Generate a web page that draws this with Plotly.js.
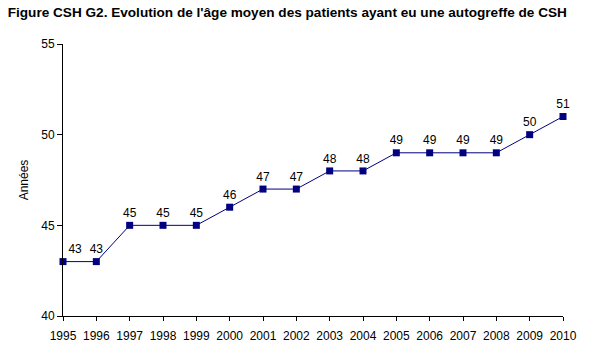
<!DOCTYPE html>
<html><head><meta charset="utf-8">
<script src="https://cdn.plot.ly/plotly-3.0.1.min.js"></script>
<style>body{margin:0;background:#fff}#c{width:593px;height:360px}</style>
</head><body><div id="c"></div>
<script>
const years = ['1995','1996','1997','1998','1999','2000','2001','2002','2003','2004','2005','2006','2007','2008','2009','2010'];
const ages = [43,43,45,45,45,46,47,47,48,48,49,49,49,49,50,51];
const yTicks = [40,45,50,55];

const font = {family:'"Liberation Sans", Arial, sans-serif', size:12, color:'#000'};
Plotly.newPlot('c', [{
  x: years, y: ages, type:'scatter', mode:'lines+markers+text',
  text: ages.map(String),
  textposition: ages.map((v,i)=> i===0 ? 'top right' : 'top center'),
  textfont: font,
  line:{color:'#000080', width:1},
  marker:{color:'#000080', symbol:'square', size:7},
  cliponaxis:false, hoverinfo:'none'
}], {
  width:593, height:360,
  margin:{l:63, r:30, t:44, b:44},
  paper_bgcolor:'#fff', plot_bgcolor:'#fff',
  showlegend:false,
  font: font,
  title:{text:'<b>Figure CSH G2. Evolution de l\'âge moyen des patients ayant eu une autogreffe de CSH</b>',
    font:{family:'"Liberation Sans", Arial, sans-serif', size:13.6, color:'#000'},
    x:0.013, xanchor:'left', y:0.965, yanchor:'middle'},
  xaxis:{type:'category', range:[0,15], showgrid:false, zeroline:false,
    showline:true, linecolor:'#000', linewidth:1,
    ticks:'outside', ticklen:4, tickcolor:'#000', tickfont:font, tickangle:0,
    ticklabelstandoff:5},
  yaxis:{range:[40,55], tickvals:yTicks, showgrid:false, zeroline:false,
    showline:true, linecolor:'#000', linewidth:1,
    ticks:'outside', ticklen:5, tickcolor:'#000', tickfont:font,
    title:{text:'Années', font:font, standoff:10}}
}, {staticPlot:true});
</script></body></html>
